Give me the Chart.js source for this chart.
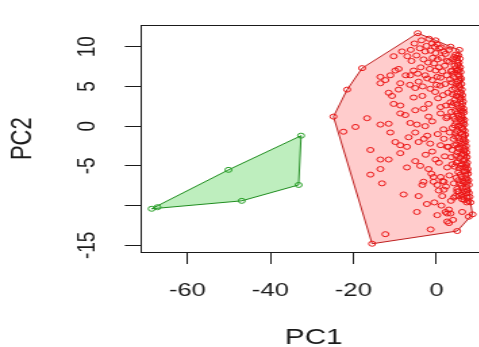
<!DOCTYPE html>
<html>
<head>
<meta charset="utf-8">
<script src="https://cdn.jsdelivr.net/npm/chart.js"></script>
<style>
html, body { margin: 0; padding: 0; background: #fff; overflow: hidden; }
#canvas { position: absolute; left: 0; top: 0; }
</style>
</head>
<body>
<!-- R graphic was stretched sideways, so the canvas is stretched too -->
<canvas id="canvas" width="370" height="352" style="width:499.5px;height:352px"></canvas>
<script>
// PCA scores
var greenScores = [[-68.6,-10.4],[-67.2,-10.2],[-50.1,-5.5],[-46.9,-9.4],[-33.2,-7.4],[-32.6,-1.2]];
var greenHullIdx = [0, 2, 5, 4, 3, 0];

var redScores = [
  // hull corners
  [-4.5,11.7],[-0.2,10.8],[3.4,10.0],[5.5,9.6],[8.2,-9.6],[8.7,-11.1],[5.0,-13.2],[-15.5,-14.8],[-24.8,1.2],[-21.5,4.6],[-17.9,7.3],
  // sparse left / middle
  [-22.4,-0.7],[-19.5,-0.1],[-16.7,1.0],[-15.9,-3.0],[-15.9,-6.1],[-13.5,0.2],[-11.5,0.3],[-13.5,-4.2],[-11.5,-4.2],[-13.5,-5.4],
  [-13.1,-7.2],[-7.9,-8.6],[-8.7,-3.4],[-7.1,-5.2],[-5.1,-4.4],[-4.7,-10.8],[-1.4,-13.0],[-4.3,-8.8],[-3.4,-7.4],[0.2,-11.2],
  [2.6,-12.0],[2.6,-11.0],[6.2,-10.8],[-12.3,-13.6],[-13.5,6.2],[-13.5,5.4],[-12.3,5.8],[-11.1,6.4],[-9.9,7.0],[-10.3,8.8],
  [-8.3,9.4],[-9.1,7.2],[-8.7,5.4],[-11.5,4.2],[-10.7,3.8],[-9.1,4.6],[-10.3,2.8],[-8.7,2.6],[-8.7,1.6],[-7.5,1.4],
  [-11.1,-0.8],[-9.9,-2.0],[-8.7,-2.4],[-7.1,-2.6],[-6.7,-1.4],[-5.1,-0.8],[-6.3,0.4],[-4.7,0.2],[-5.1,2.0],[-3.1,2.2],
  [-1.9,2.8],[-5.1,4.8],[-4.3,5.6],[-3.4,3.8],[-5.5,3.6],[-6.3,6.4],[-5.5,7.0],[-2.7,6.4],[-2.2,6.0],[-1.0,5.8],
  [-3.1,8.4],[-2.7,9.4],[-0.2,9.2],[-1.0,10.4],[0.2,10.3],[1.8,9.4],[2.6,8.2],[1.0,-2.4],[2.6,-2.6],[1.8,-1.6],
  [-1.0,-3.2],[-0.2,-4.2],[-1.9,-5.4],[-0.7,-6.4],[1.0,-6.4],[0.2,-7.4],[2.6,-5.2],[3.8,-4.8],[4.6,-8.8],[5.0,-8.2],
  [1.4,-8.8],[1.8,-8.0],[-2.2,-1.2],[-2.7,0.0],[-4.3,-2.0],[2.6,1.2],[1.0,1.6],[-1.9,1.2],[-1.0,0.6],
  [0.55,-8.1],[2.2,-10.8],[3.4,-11.0],[3.0,-12.2],[7.8,-11.4],[4.2,-9.0],[6.2,-9.2],[5.4,-8.8],[-3.1,-7.0],[-0.7,-7.0],
  [1.8,-7.0],[4.2,-7.2],
  // dense right strip
  [4.6,9.0],[5.3,8.9],[3.9,8.4],[5.0,8.2],[5.6,8.5],[4.4,7.6],[5.2,7.7],[5.7,7.4],[3.6,6.9],[4.9,7.0],
  [5.8,6.8],[4.2,6.2],[5.5,6.3],[5.9,6.0],[3.8,5.5],[5.0,5.6],[6.0,5.3],[4.5,4.8],[5.6,4.9],[6.1,4.6],
  [3.9,4.0],[5.1,4.1],[6.2,3.9],[4.4,3.3],[5.7,3.4],[6.4,3.1],[3.7,2.6],[5.0,2.7],[6.0,2.4],[6.5,2.2],
  [4.6,1.9],[5.8,2.0],[6.6,1.7],[4.0,1.2],[5.3,1.3],[6.3,1.0],[6.7,0.8],[4.8,0.5],[5.9,0.6],[6.7,0.2],
  [3.9,-0.2],[5.2,-0.1],[6.4,-0.4],[6.8,-0.6],[4.6,-0.9],[5.8,-0.8],[6.9,-1.1],[4.1,-1.6],[5.3,-1.5],[6.5,-1.7],
  [7.0,-1.9],[4.9,-2.3],[6.1,-2.2],[7.1,-2.5],[3.8,-3.0],[5.5,-2.9],[6.7,-3.1],[7.2,-3.3],[4.7,-3.7],[6.0,-3.6],
  [7.3,-3.9],[5.2,-4.4],[6.5,-4.3],[7.4,-4.6],[4.4,-5.1],[5.9,-5.0],[7.0,-5.2],[7.5,-5.4],[5.3,-5.8],[6.6,-5.7],
  [7.6,-6.0],[4.8,-6.5],[6.1,-6.4],[7.2,-6.6],[7.7,-6.8],[5.6,-7.2],[6.8,-7.1],[7.8,-7.4],[5.0,-7.9],[6.4,-7.8],
  [7.5,-8.1],[6.0,-8.6],[7.1,-8.5],[8.0,-8.9],[6.7,-9.3],[7.7,-9.4],
  [4.3,8.7],[4.9,8.6],[5.4,8.0],[4.7,7.3],[5.4,7.1],[4.1,6.6],[5.2,6.5],[5.7,5.8],[4.7,5.3],[5.4,5.1],
  [5.9,4.2],[4.8,3.8],[5.4,3.7],[6.1,3.5],[4.2,2.9],[5.4,2.3],[6.2,2.8],[5.0,1.6],[6.0,1.4],[6.4,1.9],
  [4.4,0.9],[5.6,0.9],[6.5,0.4],[4.4,0.1],[5.6,0.1],[6.1,-0.2],[5.0,-0.6],[6.2,-1.0],[6.6,-1.3],[4.6,-1.3],
  [5.7,-1.9],[6.7,-2.1],[4.3,-2.4],[5.2,-2.7],[6.3,-2.7],[7.0,-2.9],[5.1,-3.3],[6.4,-3.5],[6.9,-3.6],[5.6,-4.0],
  [6.9,-4.2],[4.8,-4.6],[6.2,-4.8],[7.2,-4.9],[5.5,-5.3],[6.4,-5.2],[7.3,-5.7],[5.8,-6.1],[7.0,-6.2],[5.3,-6.8],
  [6.4,-6.9],[7.4,-7.0],[6.0,-7.5],[7.1,-7.7],[5.4,-8.2],[6.8,-8.2],[7.8,-8.4],[6.4,-8.9],[7.4,-9.0],[7.3,-9.6],
  // upper cluster
  [1.2,8.6],[2.0,7.6],[3.1,8.1],[3.7,7.0],[2.5,6.4],[1.4,6.9],[0.6,7.4],[3.3,5.9],[2.1,5.3],[0.9,5.1],
  [3.8,4.6],[2.8,4.2],[1.6,3.9],[0.4,3.5],[3.4,3.0],[2.3,2.6],[1.0,2.4],[-0.3,4.3],[0.2,6.2],[-0.6,7.9],
  [3.0,9.6],[2.4,1.0],[3.6,1.8],
  [-6.0,8.2],[-4.8,8.9],[-4.0,9.8],[-2.4,10.1],[-1.4,9.5],[-0.4,10.0],[0.7,9.8],[1.2,9.9],[2.2,9.1],[0.3,8.4],
  [-1.6,7.2],[-0.2,7.0],[1.0,6.1],[-4.5,6.6],[-3.3,5.0],[-1.5,4.7],[0.0,5.2],
  // middle
  [-3.0,-1.6],[-1.5,-2.2],[0.3,-1.0],[1.7,-0.4],[3.2,-0.8],[2.9,-2.6],[3.6,-3.9],[2.0,-3.8],[0.6,-4.6],[-2.6,-3.6],
  [-3.9,-5.0],[-1.2,-6.0],[1.5,-6.9],[3.1,-6.2],[2.3,-7.6],[3.5,-9.4],[-0.5,-9.6],[-2.3,-9.8],[1.2,-10.0],[3.0,-10.5],
  [4.0,-11.8],
  // top
  [-7.0,8.8],[-6.2,9.6],[-5.3,10.4],[-3.6,10.8],[-1.8,11.0],[-2.0,8.0],[-0.9,8.6],[-3.8,7.4],[-7.4,6.4],[-6.4,5.2]
];
var redHullIdx = [0, 1, 2, 3, 4, 5, 6, 7, 8, 9, 10, 0];

var xTicks = [-60, -40, -20, 0];
var yTicks = [-15, -10, -5, 0, 5, 10];
var yTickLabels = ['-15', '', '-5', '0', '5', '10'];

var fontFamily = "'Liberation Sans', Arial, sans-serif";
var ink = '#1a1a1a';

function toPoints(scores) {
  return scores.map(function (p) { return {x: p[0], y: p[1]}; });
}
function hullPoints(scores, idx) {
  return idx.map(function (i) { return {x: scores[i][0], y: scores[i][1]}; });
}

var ctx = document.getElementById('canvas').getContext('2d');
var chart = new Chart(ctx, {
  type: 'scatter',
  data: {
    datasets: [
      {
        data: toPoints(redScores),
        borderColor: 'rgb(235,20,20)',
        backgroundColor: 'rgba(0,0,0,0)',
        pointRadius: 2.5,
        borderWidth: 1
      },
      {
        data: toPoints(greenScores),
        borderColor: 'rgb(40,160,40)',
        backgroundColor: 'rgba(0,0,0,0)',
        pointRadius: 2.5,
        borderWidth: 1
      },
      {
        data: hullPoints(redScores, redHullIdx),
        showLine: true,
        fill: 'shape',
        borderColor: 'rgb(190,30,30)',
        backgroundColor: 'rgba(255,0,0,0.2)',
        borderWidth: 1,
        pointRadius: 0,
        tension: 0
      },
      {
        data: hullPoints(greenScores, greenHullIdx),
        showLine: true,
        fill: 'shape',
        borderColor: 'rgb(30,140,30)',
        backgroundColor: 'rgba(40,200,40,0.3)',
        borderWidth: 1,
        pointRadius: 0,
        tension: 0
      }
    ]
  },
  options: {
    responsive: false,
    animation: false,
    layout: { padding: { left: 0, top: 15, right: 10.2, bottom: 0 } },
    plugins: { legend: { display: false }, tooltip: { enabled: false } },
    scales: {
      x: {
        type: 'linear',
        position: 'bottom',
        min: -71.15,
        max: 12.0,
        afterBuildTicks: function (axis) { axis.ticks = xTicks.map(function (v) { return {value: v}; }); },
        afterFit: function (axis) { axis.height = 100; },
        grid: { drawOnChartArea: false, tickLength: 12, tickColor: ink, color: ink },
        border: { display: true, color: ink, width: 1 },
        ticks: { color: ink, padding: 15, font: { family: fontFamily, size: 19 }, maxRotation: 0 },
        title: { display: true, text: 'PC1', color: ink, font: { family: fontFamily, size: 22, lineHeight: 1 }, padding: { top: 0, bottom: 3.5 } }
      },
      y: {
        type: 'linear',
        position: 'left',
        min: -15.84,
        max: 12.68,
        afterBuildTicks: function (axis) { axis.ticks = yTicks.map(function (v) { return {value: v}; }); },
        afterFit: function (axis) { axis.width = 104.4; },
        grid: { drawOnChartArea: false, tickLength: 12, tickColor: ink, color: ink },
        border: { display: true, color: ink, width: 1 },
        ticks: {
          color: ink, padding: 14, crossAlign: 'center', minRotation: 90, maxRotation: 90,
          font: { family: fontFamily, size: 19 },
          callback: function (v) { return yTickLabels[yTicks.indexOf(v)]; }
        },
        title: { display: true, text: 'PC2', color: ink, font: { family: fontFamily, size: 22, lineHeight: 1 }, padding: { top: 6, bottom: 0 } }
      },
      top: {
        type: 'linear',
        position: 'top',
        afterFit: function (axis) { axis.height = 0; },
        grid: { display: false },
        ticks: { display: false },
        border: { display: true, color: ink, width: 1 }
      }
    }
  }
});
</script>
</body>
</html>
